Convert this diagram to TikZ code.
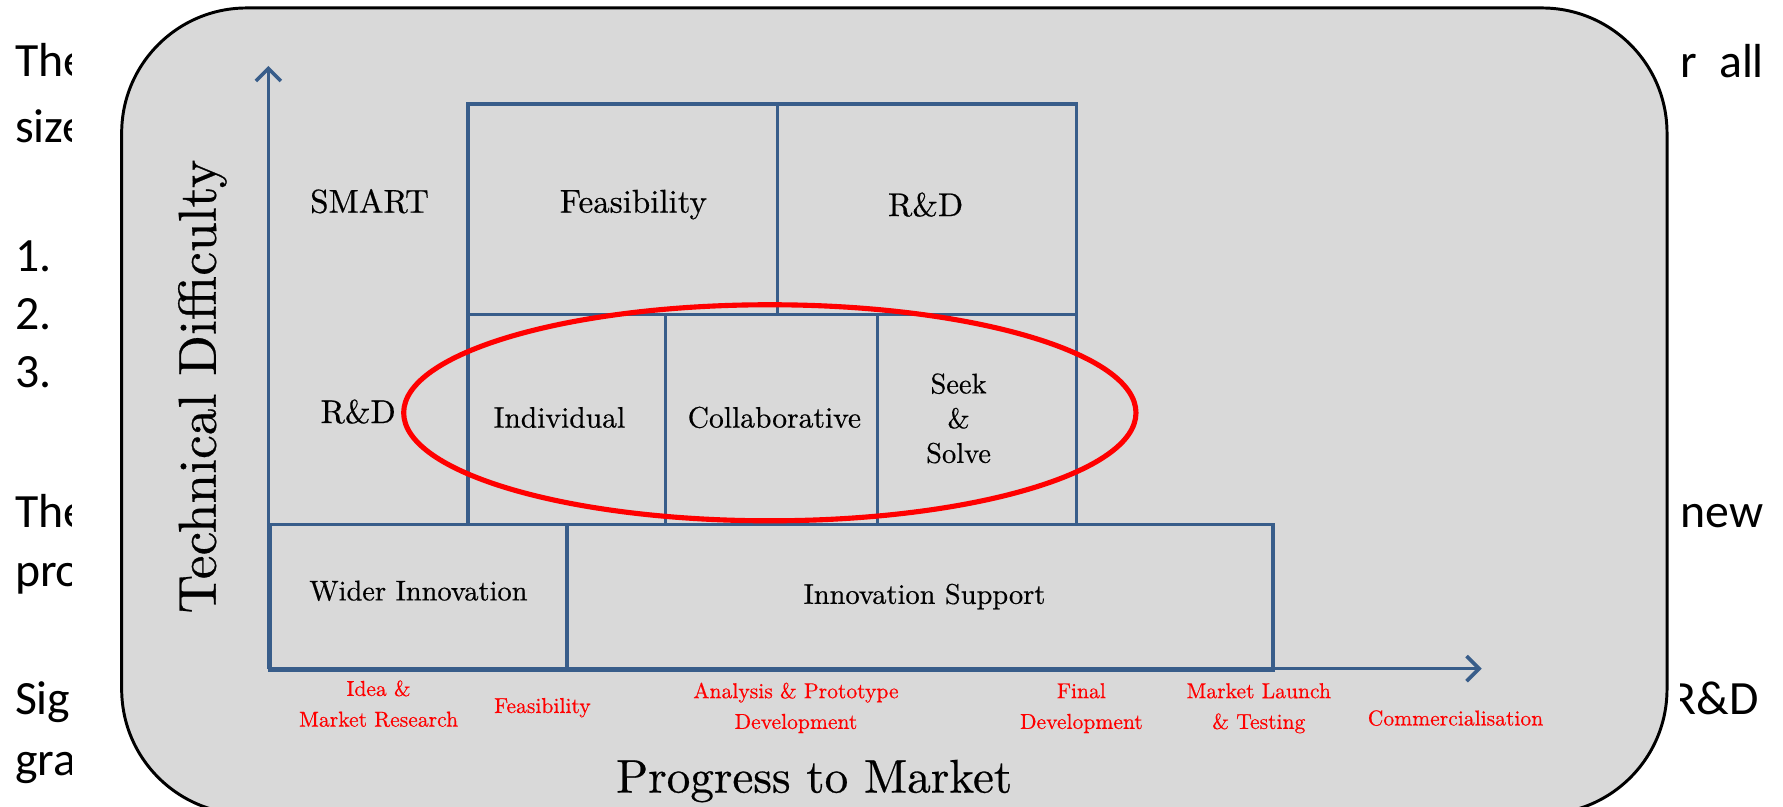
\documentclass[tikz,border=0pt]{standalone}
\usepackage{fontspec}
\setmainfont{lmroman10-regular}[Extension=.otf, FakeBold=0.5]
\newfontfamily\slidefont{Carlito}
\usetikzlibrary{arrows.meta,shapes.geometric}
\definecolor{axisblue}{RGB}{56,93,138}
\definecolor{panelgray}{RGB}{217,217,217}
\begin{document}
\begin{tikzpicture}[x=1pt,y=-1pt,
  slide/.style={font=\slidefont\fontsize{42}{50}\selectfont, anchor=base west, inner sep=0pt, text=black},
  cell/.style={draw=axisblue, line width=3pt, anchor=north west, inner sep=0pt},
  axis/.style={draw=axisblue, line width=3.2pt, -{Straight Barb[length=11pt,width=22pt]}},
  lbl/.style={font=\fontsize{26}{30.5}\selectfont, anchor=base, inner sep=0pt, align=center},
  toplbl/.style={font=\fontsize{29}{32}\selectfont, anchor=base, inner sep=0pt},
  stage/.style={font=\fontsize{19}{27}\selectfont, text=red, anchor=base, align=center, inner sep=0pt}]
\useasboundingbox (0,0) rectangle (1568,709);
\fill[white] (0,0) rectangle (1568,709);
% slide text behind the picture
\node[slide] (t1) at (13,67) {The};
\node[slide] (t2) at (13,125) {size};
\node[slide] (t3) at (13,239) {1.};
\node[slide] (t4) at (13,290) {2.};
\node[slide] (t5) at (13,341) {3.};
\node[slide] (t6) at (13,464) {The};
\node[slide] (t7) at (13,516) {pro};
\node[slide] (t8) at (13,628) {Sig};
\node[slide] (t9) at (13,682) {gra};
\node[slide] (r1) at (1478,68) {r\ \ all};
\node[slide] (r2) at (1478,464) {new};
\node[slide] (r3) at (1469,628) {R\&D};
% white backdrop of the inserted picture
\fill[white] (63,-5) rectangle (1477,715);
% grey rounded panel
\draw[fill=panelgray, line width=2.6pt, rounded corners=110pt] (107,7) rectangle (1466,716);
% cells
\node[cell, minimum width=272pt, minimum height=185pt] (feas) at (410,90) {};
\node[cell, minimum width=263pt, minimum height=185pt] (rdtop) at (682,90) {};
\node[cell, minimum width=174pt, minimum height=185pt] (indiv) at (410,275) {};
\node[cell, minimum width=186pt, minimum height=185pt] (collab) at (584,275) {};
\node[cell, minimum width=175pt, minimum height=185pt] (seek) at (770,275) {};
\node[cell, minimum width=261pt, minimum height=128pt] (wider) at (236,460) {};
\node[cell, minimum width=621pt, minimum height=128pt] (support) at (497,460) {};
% axes
\coordinate (origin) at (236,588);
\coordinate (ytip) at (236,58);
\coordinate (xtip) at (1303,588);
\draw[axis] (origin) -- (ytip);
\draw[axis] (origin) -- (xtip);
% ellipse
\node[draw=red, line width=4.5pt, ellipse, minimum width=644pt, minimum height=190pt, inner sep=0pt] (focus) at (677,363) {};
% labels
\node[toplbl] (smart) at (325,187) {SMART};
\node[toplbl] (feaslbl) at (557,187) {Feasibility};
\node[toplbl] (rdtoplbl) at (814,190) {R\&D};
\node[toplbl] (rdmid) at (315,372) {R\&D};
\node[lbl] (indivlbl) at (492,376) {Individual};
\node[lbl] (collablbl) at (681,376) {Collaborative};
\node[lbl, font=\fontsize{25}{30.5}\selectfont] (seeklbl) at (843,407) {Seek\\\&\\Solve};
\node[lbl, font=\fontsize{25}{30}\selectfont] (widerlbl) at (368,528) {Wider Innovation};
\node[lbl, font=\fontsize{25}{30}\selectfont] (supportlbl) at (813,531) {Innovation Support};
% axis titles
\node[rotate=90, font=\fontsize{47}{50}\selectfont, inner sep=0pt] (ytitle) at (178,340) {Technical Difficulty};
\node[anchor=base, font=\fontsize{41.5}{50}\selectfont, inner sep=0pt] (xtitle) at (716,697) {Progress to Market};
% stages
\node[stage] (s1) at (333,639) {Idea \&\\Market Research};
\node[stage] (s2) at (477,627) {Feasibility};
\node[stage] (s3) at (700,641) {Analysis \& Prototype\\Development};
\node[stage] (s4) at (951,641) {Final\\Development};
\node[stage] (s5) at (1107,641) {Market Launch\\\& Testing};
\node[stage] (s6) at (1280,638) {Commercialisation};
\end{tikzpicture}
\end{document}
